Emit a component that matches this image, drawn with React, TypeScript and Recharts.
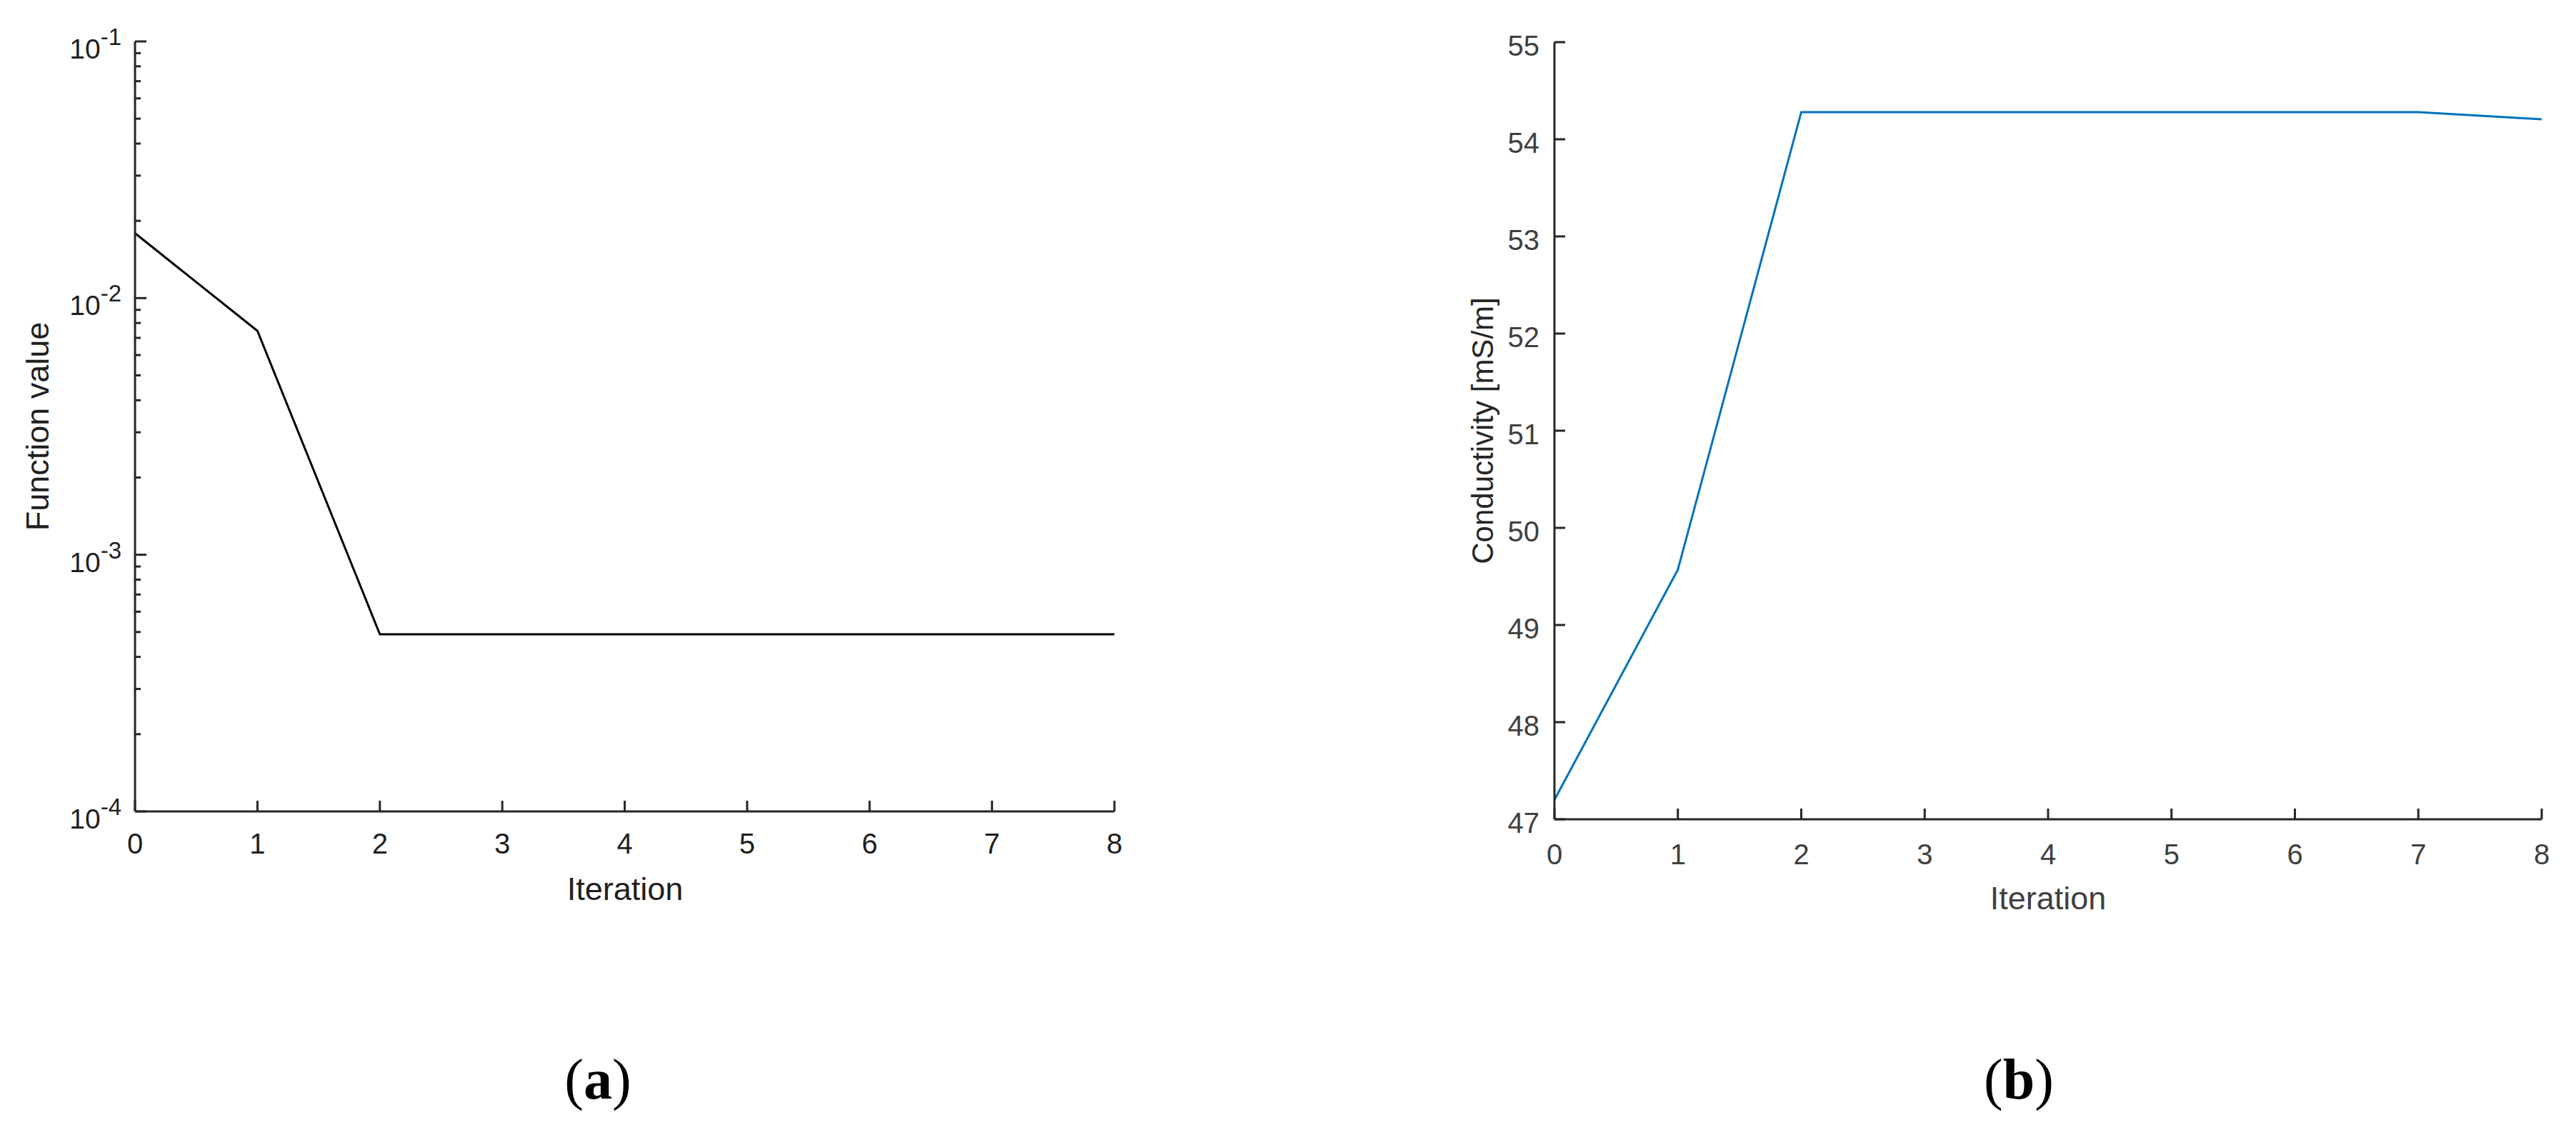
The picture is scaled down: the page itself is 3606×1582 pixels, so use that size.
import { Line, LineChart, XAxis, YAxis } from 'recharts'

const iterations = [0, 1, 2, 3, 4, 5, 6, 7, 8]
const functionValues = [0.0179, 0.00745, 0.00049, 0.00049, 0.00049, 0.00049, 0.00049, 0.00049, 0.00049]
const conductivityValues = [47.2, 49.57, 54.28, 54.28, 54.28, 54.28, 54.28, 54.28, 54.205]

const iterationTicks = [0, 1, 2, 3, 4, 5, 6, 7, 8]
const logDecades = [1e-4, 1e-3, 1e-2, 1e-1]
const logMinorSteps = [2, 3, 4, 5, 6, 7, 8, 9]
const conductivityTicks = [47, 48, 49, 50, 51, 52, 53, 54, 55]

const logTicks = logDecades.flatMap((d, i) =>
  i === logDecades.length - 1 ? [d] : [d, ...logMinorSteps.map((m) => m * d)],
)

const functionData = iterations.map((iter, i) => ({ iter, value: functionValues[i] }))
const conductivityData = iterations.map((iter, i) => ({ iter, value: conductivityValues[i] }))

const SANS = '"Liberation Sans", Arial, Helvetica, sans-serif'
const AXIS_DARK = '#262626'
const LEFT_TEXT = '#1f1f1f'
const RIGHT_TEXT = '#404040'
const MATLAB_BLUE = '#0072BD'

function LogYTick({ x, y, payload }: any) {
  const v = payload.value as number
  const major = logDecades.includes(v)
  return (
    <g>
      <line x1={x} x2={x + (major ? 16 : 8)} y1={y} y2={y} stroke={AXIS_DARK} strokeWidth={3} />
      {major && (
        <text x={x - 19} y={y + 24} textAnchor="end" fontFamily={SANS} fontSize={39} fill={LEFT_TEXT}>
          10
          <tspan dy={-19} fontSize={33}>
            {Math.round(Math.log10(v))}
          </tspan>
        </text>
      )}
    </g>
  )
}

function makeXTick(labelOffset: number, color: string) {
  return function XTick({ x, y, payload }: any) {
    return (
      <g>
        <line x1={x} x2={x} y1={y} y2={y - 15} stroke={AXIS_DARK} strokeWidth={3} />
        <text x={x} y={y + labelOffset} textAnchor="middle" fontFamily={SANS} fontSize={40} fill={color}>
          {payload.value}
        </text>
      </g>
    )
  }
}

function LinearYTick({ x, y, payload }: any) {
  return (
    <g>
      <line x1={x} x2={x + 15} y1={y} y2={y} stroke={AXIS_DARK} strokeWidth={3} />
      <text x={x - 21} y={y + 18.5} textAnchor="end" fontFamily={SANS} fontSize={40} fill={RIGHT_TEXT}>
        {payload.value}
      </text>
    </g>
  )
}

const LeftXTick = makeXTick(59, LEFT_TEXT)
const RightXTick = makeXTick(63, RIGHT_TEXT)

export default function App() {
  return (
    <div style={{ position: 'absolute', left: 0, top: 0, width: 3606, height: 1582, background: '#fff' }}>
      <div style={{ position: 'absolute', left: 0, top: 0 }}>
        <LineChart width={1700} height={1400} data={functionData} margin={{ top: 58, right: 140, bottom: 164, left: 0 }}>
          <XAxis
            dataKey="iter"
            type="number"
            domain={[0, 8]}
            ticks={iterationTicks}
            interval={0}
            height={100}
            tickSize={0}
            tickMargin={0}
            tickLine={false}
            axisLine={{ stroke: AXIS_DARK, strokeWidth: 3 }}
            tick={<LeftXTick />}
          />
          <YAxis
            type="number"
            scale="log"
            domain={[1e-4, 1e-1]}
            ticks={logTicks}
            interval={0}
            width={189}
            tickSize={0}
            tickMargin={0}
            tickLine={false}
            axisLine={{ stroke: AXIS_DARK, strokeWidth: 3 }}
            tick={<LogYTick />}
          />
          <Line type="linear" dataKey="value" stroke="#000" strokeWidth={3} dot={false} isAnimationActive={false} />
        </LineChart>
      </div>
      <div style={{ position: 'absolute', left: 1800, top: 0 }}>
        <LineChart width={1806} height={1400} data={conductivityData} margin={{ top: 59, right: 48, bottom: 153, left: 0 }}>
          <XAxis
            dataKey="iter"
            type="number"
            domain={[0, 8]}
            ticks={iterationTicks}
            interval={0}
            height={100}
            tickSize={0}
            tickMargin={0}
            tickLine={false}
            axisLine={{ stroke: AXIS_DARK, strokeWidth: 3 }}
            tick={<RightXTick />}
          />
          <YAxis
            type="number"
            domain={[47, 55]}
            ticks={conductivityTicks}
            interval={0}
            width={376}
            tickSize={0}
            tickMargin={0}
            tickLine={false}
            axisLine={{ stroke: AXIS_DARK, strokeWidth: 3 }}
            tick={<LinearYTick />}
          />
          <Line type="linear" dataKey="value" stroke={MATLAB_BLUE} strokeWidth={3} dot={false} isAnimationActive={false} />
        </LineChart>
      </div>
      <svg width={3606} height={1582} style={{ position: 'absolute', left: 0, top: 0, pointerEvents: 'none' }}>
        <text x={68} y={597} transform="rotate(-90, 68, 597)" textAnchor="middle" fontFamily={SANS} fontSize={45} fill={LEFT_TEXT}>
          Function value
        </text>
        <text x={875} y={1260} textAnchor="middle" fontFamily={SANS} fontSize={45} fill={LEFT_TEXT}>
          Iteration
        </text>
        <text x={2090} y={603} transform="rotate(-90, 2090, 603)" textAnchor="middle" fontFamily={SANS} fontSize={42} fill={AXIS_DARK}>
          Conductivity [mS/m]
        </text>
        <text x={2867} y={1273} textAnchor="middle" fontFamily={SANS} fontSize={45} fill={RIGHT_TEXT}>
          Iteration
        </text>
        <text x={837} y={1538} textAnchor="middle" fontFamily='"Liberation Serif", "Times New Roman", serif' fontSize={80} fill="#000">
          (<tspan fontWeight="bold">a</tspan>)
        </text>
        <text x={2826} y={1538} textAnchor="middle" fontFamily='"Liberation Serif", "Times New Roman", serif' fontSize={80} fill="#000">
          (<tspan fontWeight="bold">b</tspan>)
        </text>
      </svg>
    </div>
  )
}
